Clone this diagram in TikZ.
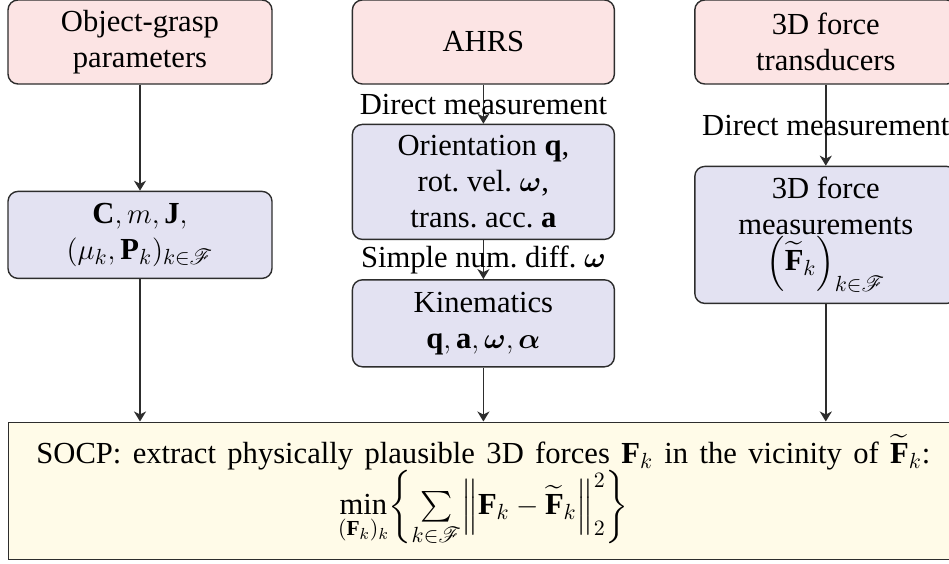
\documentclass[tikz,border=0pt]{standalone}
\usepackage{amsmath,amssymb}
\IfFileExists{mathrsfs.sty}{\usepackage{mathrsfs}\newcommand{\setF}{\mathscr{F}}}{\newcommand{\setF}{\mathcal{F}}}
\usepackage{fontspec}
\setmainfont{Liberation Serif}
\usetikzlibrary{arrows.meta,positioning}
\definecolor{srcpink}{RGB}{252,228,228}
\definecolor{datblue}{RGB}{227,226,242}
\definecolor{socpyel}{RGB}{255,251,232}
\definecolor{edge}{RGB}{45,45,45}
\newcommand{\figfont}{\fontsize{15.3}{18}\selectfont}
\tikzset{box/.style={draw=edge,line width=0.7pt,rounded corners=5pt,align=center,minimum width=131pt,inner sep=2pt,font=\figfont},
  src/.style={box,fill=srcpink,minimum height=42pt},
  dat/.style={box,fill=datblue},
  arr/.style={-{Stealth[length=5pt,width=6pt,inset=1.5pt]},line width=0.9pt,draw=edge}}

\begin{document}
\begin{tikzpicture}[x=0.5pt,y=-0.5pt,
  lab/.style={font=\figfont,inner sep=0pt}]
\useasboundingbox (0,0) rectangle (949,563);
\node[src,minimum width=132pt] (obj) at (140,42) {Object-grasp\\parameters};
\node[src,right=39.5pt of obj] (ahrs) {AHRS};
\node[src,right=39.5pt of ahrs] (trans) {3D force\\transducers};
\node[dat,minimum width=132pt,minimum height=43.5pt,below=53pt of obj] (par) {$\mathbf{C},m,\mathbf{J},$\\$(\mu_k,\mathbf{P}_k)_{k\in\setF}$};
\node[dat,minimum height=57.5pt,below=19.5pt of ahrs] (ori) {Orientation $\mathbf{q}$,\\rot.\ vel.\ $\boldsymbol{\omega}$,\\trans.\ acc.\ $\mathbf{a}$};
\node[dat,minimum height=43.5pt,below=19.5pt of ori] (kin) {Kinematics\\$\mathbf{q},\mathbf{a},\boldsymbol{\omega},\boldsymbol{\alpha}$};
\node[dat,minimum height=68.5pt,below=40.5pt of trans] (meas) {3D force\\measurements\\$\left(\widetilde{\mathbf{F}}_k\right)_{k\in\setF}$};
\node[box,rounded corners=0pt,fill=socpyel,minimum width=475pt,minimum height=68.5pt,inner sep=0.5pt,below=27pt of kin] (socp)
  {\makebox[447pt][s]{SOCP: extract physically plausible 3D forces $\mathbf{F}_k$ in the vicinity of $\widetilde{\mathbf{F}}_k$:}\\[-1pt]
   $\min\limits_{(\mathbf{F}_k)_k}\biggl\{\sum\limits_{k\in\setF}\Bigl\|\mathbf{F}_k-\widetilde{\mathbf{F}}_k\Bigr\|_2^2\biggr\}\rule[-13pt]{0pt}{13pt}$};
\draw[arr] (obj) -- (par);
\draw[arr] (ahrs) -- (ori) node[midway,lab]{Direct measurement};
\draw[arr] (ori) -- (kin) node[midway,lab]{Simple num.\ diff.\ $\boldsymbol{\omega}$};
\draw[arr] (trans) -- (meas) node[midway,lab]{Direct measurement};
\draw[arr] (par) -- (par |- socp.north);
\draw[arr] (kin) -- (kin |- socp.north);
\draw[arr] (meas) -- (meas |- socp.north);
\end{tikzpicture}
\end{document}
